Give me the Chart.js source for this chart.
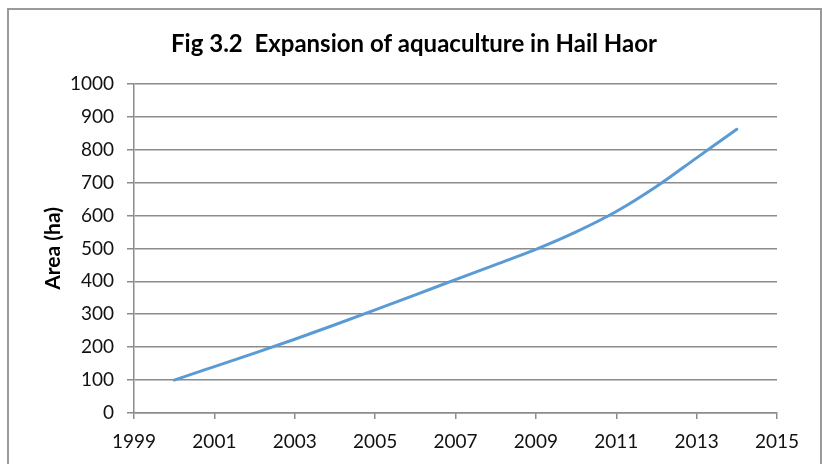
<!DOCTYPE html>
<html>
<head>
<meta charset="utf-8">
<script src="https://cdn.jsdelivr.net/npm/chart.js@4"></script>
<style>
  html, body { margin: 0; padding: 0; background: #fff; overflow: hidden; }
  #wrap { position: relative; width: 822px; height: 464px; }
  #frame {
    position: absolute; left: 7px; top: 8px; width: 811px; height: 470px;
    border: 2px solid #9a9a9a; pointer-events: none;
  }
  canvas { position: absolute; left: 0; top: 0; }
</style>
</head>
<body>
<div id="wrap">
  <canvas id="c" width="822" height="464"></canvas>
  <div id="frame"></div>
</div>
<script>
// Aquaculture area in Hail Haor, by year
const years = [2000, 2001, 2002, 2003, 2004, 2005, 2006, 2007, 2008, 2009, 2010, 2011, 2012, 2013, 2014];
const areaHa = [100, 141, 182, 224, 268, 313, 359, 405, 451, 497, 550, 612, 688, 775, 862];

const xTickMin = 1999, xTickMax = 2015, xTickStep = 2;
const yTickMin = 0, yTickMax = 1000, yTickStep = 100;

const chartTitle = 'Fig 3.2  Expansion of aquaculture in Hail Haor';
const yAxisTitle = 'Area (ha)';

const points = years.map((y, i) => ({ x: y, y: areaHa[i] }));

const gridGrey = '#8c8c8c';
const textFont = 'Lato, "Liberation Sans", sans-serif';

new Chart(document.getElementById('c'), {
  type: 'scatter',
  data: {
    datasets: [{
      data: points,
      showLine: true,
      borderColor: '#5B9BD5',
      backgroundColor: '#5B9BD5',
      borderWidth: 3,
      pointRadius: 0,
      cubicInterpolationMode: 'monotone',
      borderCapStyle: 'round',
      yAxisID: 'y'
    }]
  },
  options: {
    responsive: false,
    animation: false,
    layout: { padding: { left: 6, top: 0, right: 0, bottom: 0 } },
    plugins: {
      legend: { display: false },
      tooltip: { enabled: false },
      title: {
        display: true,
        text: chartTitle,
        color: '#000',
        font: { family: textFont, size: 24, weight: 'bold' },
        padding: { top: 30, bottom: 25 }
      }
    },
    scales: {
      x: {
        type: 'linear',
        min: xTickMin,
        max: xTickMax,
        afterFit: s => { s.height = 51; },
        grid: {
          drawOnChartArea: false,
          drawTicks: true,
          tickLength: 6,
          tickColor: gridGrey,
          lineWidth: 1.5
        },
        border: { display: true, color: gridGrey, width: 1.5 },
        ticks: {
          stepSize: xTickStep,
          color: '#111',
          padding: 11,
          font: { family: textFont, size: 19 },
          callback: v => String(v)
        }
      },
      y: {
        min: yTickMin,
        max: yTickMax,
        afterFit: s => { s.width = 128; },
        grid: {
          color: gridGrey,
          lineWidth: 1.5,
          drawTicks: true,
          tickLength: 7,
          tickColor: gridGrey
        },
        border: { display: true, color: gridGrey, width: 1.5 },
        ticks: {
          stepSize: yTickStep,
          color: '#111',
          padding: 13,
          font: { family: textFont, size: 19 },
          callback: v => String(v)
        },
        title: {
          display: true,
          text: yAxisTitle,
          color: '#000',
          font: { family: textFont, size: 21, weight: 'bold' },
          padding: { top: 35, bottom: 0 }
        }
      },
      // empty right-hand margin beside the plot
      yRight: {
        position: 'right',
        min: yTickMin,
        max: yTickMax,
        afterFit: s => { s.width = 45; },
        grid: { display: false },
        border: { display: false },
        ticks: { display: false }
      }
    }
  }
});
</script>
</body>
</html>
